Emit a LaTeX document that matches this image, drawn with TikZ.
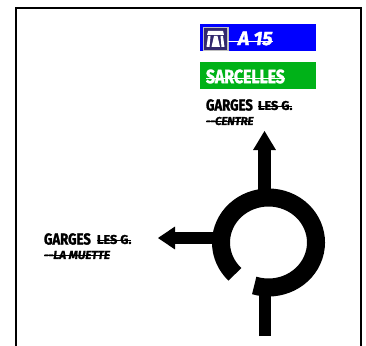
\documentclass[tikz,border=0pt]{standalone}
\usepackage{fontspec}
\setmainfont{Fira Sans}
\newfontfamily\signfont[FakeStretch=0.82,FakeBold=1.5]{Fira Sans}
\newfontfamily\labelfont[FakeBold=1.5]{Fira Sans}
\definecolor{motorblue}{RGB}{0,0,255}
\definecolor{signgreen}{RGB}{0,178,24}
\definecolor{iconnavy}{RGB}{50,40,110}
\tikzset{
  x=0.75pt,y=-0.75pt,
  road/.style={line width=9.4pt,black},
  ring/.style={line width=13.5pt,black},
  tip/.style={fill=black,draw=none},
  txt/.style={inner sep=0pt,outer sep=0pt,anchor=west,text=black},
  strike/.style={line width=0.6pt},
}
\begin{document}
\begin{tikzpicture}
\useasboundingbox (0,0) rectangle (366,345);
\draw[line width=1.5pt,black] (16,346) -- (16,8) -- (361,8) -- (361,346);
% panels
\fill[motorblue] (200,24) rectangle (316,51);
\fill[signgreen] (200,62) rectangle (316,89);
% motorway icon
\draw[fill=iconnavy,draw=black!25,line width=0.8pt] (203.5,27.5) rectangle (228,50.5);
\fill[white] (208,31) -- (223,31) -- (224,35) -- (207,35) -- cycle;
\fill[white] (208,36) -- (210.5,36) -- (209.5,47) -- (206.5,47) -- cycle;
\fill[white] (220.5,36) -- (223,36) -- (224.5,47) -- (221.5,47) -- cycle;
\fill[white] (214,36) -- (217.5,36) -- (220,47) -- (211.5,47) -- cycle;
\node[txt,text=white,font=\labelfont\bfseries\itshape\fontsize{14.5}{15}\selectfont] (a15) at (238,38.5) {A 15};
\draw[strike,white] (228,41) -- (a15.east |- 0,41);
\node[txt,text=white,font=\signfont\bfseries\fontsize{14.5}{15}\selectfont] (sar) at (206,76.5) {SARCELLES};
\draw[strike,white] (sar.west |- 0,78) -- (sar.east |- 0,78);
% labels
\node[txt,font=\signfont\bfseries\fontsize{12}{12}\selectfont] (g1) at (206,105) {GARGES};
\node[txt,font=\labelfont\bfseries\fontsize{9.5}{10}\selectfont] (l1) at (258,105.5) {LES G.};
\draw[strike] (l1.west |- 0,106) -- (l1.east |- 0,106);
\node[txt,font=\labelfont\bfseries\itshape\fontsize{8.5}{10}\selectfont] (c1) at (206,121) {--CENTRE};
\draw[strike] (c1.west |- 0,121.5) -- (c1.east |- 0,121.5);
\node[txt,font=\signfont\bfseries\fontsize{12}{12}\selectfont] (g2) at (44,239) {GARGES};
\node[txt,font=\labelfont\bfseries\fontsize{9.5}{10}\selectfont] (l2) at (97,239.5) {LES G.};
\draw[strike] (l2.west |- 0,240) -- (l2.east |- 0,240);
\node[txt,font=\labelfont\bfseries\itshape\fontsize{8.8}{10}\selectfont] (c2) at (44,255) {--LA MUETTE};
\draw[strike] (c2.west |- 0,255.5) -- (c2.east |- 0,255.5);
% roundabout
\coordinate (ringstart) at ({268.5+47.5*cos(107.5)},{242.5+45*sin(107.5)});
\draw[ring] (ringstart) arc[start angle=107.5,end angle=-225,x radius=47.5,y radius=45];
\coordinate (southend) at (265,336);
\coordinate (southin) at (265,288);
\coordinate (northin) at (264.5,195);
\coordinate (northtip) at (264.5,131);
\coordinate (northbase) at (264.5,150);
\coordinate (westin) at (218,238);
\coordinate (westtip) at (158,238);
\coordinate (westbase) at (175,238);
\draw[road] (southend) -- (southin);
\draw[road] (northin) -- (northbase);
\draw[road] (westin) -- (westbase);
\fill[tip] (northtip) -- ([xshift=-8.6pt]northbase) -- ([xshift=8.6pt]northbase) -- cycle;
\fill[tip] (westtip) -- ([yshift=8.6pt]westbase) -- ([yshift=-8.6pt]westbase) -- cycle;
\end{tikzpicture}
\end{document}
